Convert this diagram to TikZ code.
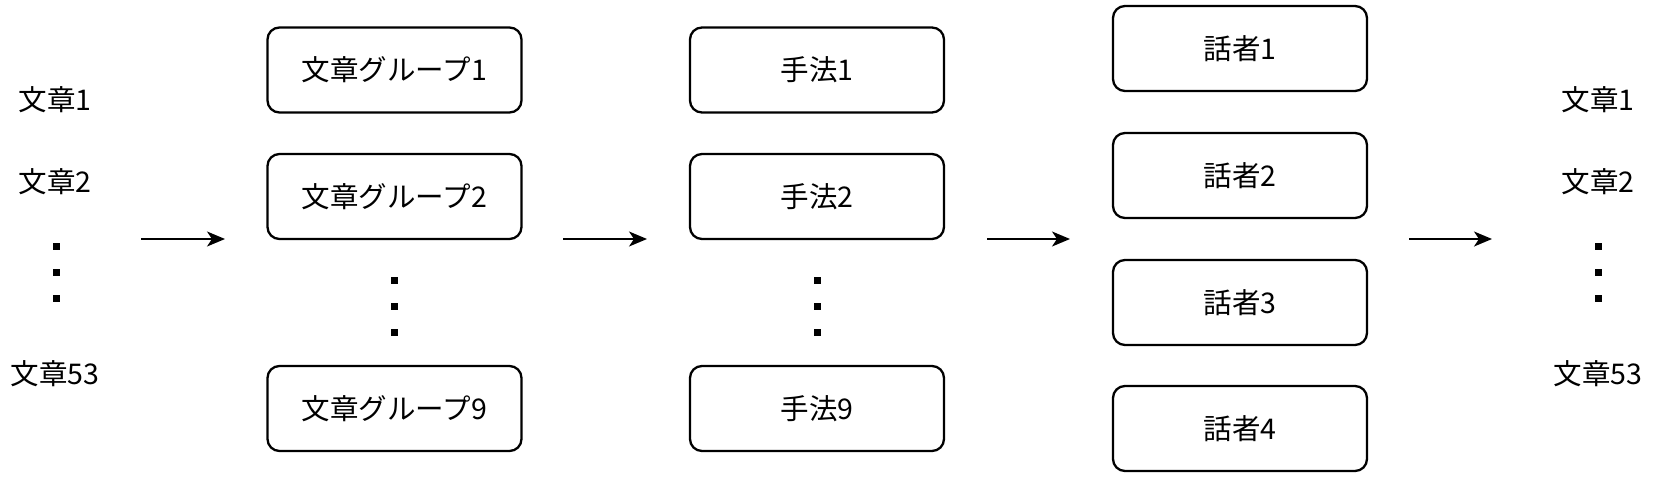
\documentclass[tikz,border=0pt]{standalone}
\usepackage{fontspec}
\setmainfont{Noto Sans CJK JP}
\usetikzlibrary{arrows.meta}
\begin{document}
\begin{tikzpicture}[x=1pt,y=-1pt,
  every node/.style={font=\fontsize{28.5}{32}\selectfont},
  boxnode/.style={draw=black,line width=2.3pt,rounded corners=12pt,minimum width=254pt,minimum height=85pt,inner sep=0pt},
  txt/.style={inner sep=0pt},
  dotsq/.style={fill=black,minimum size=7pt,inner sep=0pt,draw=none},
  flow/.style={line width=2pt,-{Stealth[length=18pt,width=15pt,inset=5pt]}}]
\useasboundingbox (0,0) rectangle (1658,490);
% left texts
\node[txt] (l1) at (55,100) {文章1};
\node[txt] (l2) at (55,182) {文章2};
\node[dotsq] (ld1) at (56,246) {};
\node[dotsq] (ld2) at (56,272) {};
\node[dotsq] (ld3) at (56,298) {};
\node[txt] (l53) at (55,374) {文章53};
% groups
\node[boxnode] (g1) at (394.5,70) {文章グループ1};
\node[boxnode] (g2) at (394.5,196.5) {文章グループ2};
\node[dotsq] (gd1) at (394,280) {};
\node[dotsq] (gd2) at (394,306) {};
\node[dotsq] (gd3) at (394,332) {};
\node[boxnode] (g9) at (394.5,408.5) {文章グループ9};
% methods
\node[boxnode] (m1) at (817,70) {手法1};
\node[boxnode] (m2) at (817,196.5) {手法2};
\node[dotsq] (md1) at (817,280) {};
\node[dotsq] (md2) at (817,306) {};
\node[dotsq] (md3) at (817,332) {};
\node[boxnode] (m9) at (817,408.5) {手法9};
% speakers
\node[boxnode] (s1) at (1240,48.5) {話者1};
\node[boxnode] (s2) at (1240,175.5) {話者2};
\node[boxnode] (s3) at (1240,302.5) {話者3};
\node[boxnode] (s4) at (1240,428.5) {話者4};
% right texts
\node[txt] (r1) at (1598,100) {文章1};
\node[txt] (r2) at (1598,182) {文章2};
\node[dotsq] (rd1) at (1598,246) {};
\node[dotsq] (rd2) at (1598,272) {};
\node[dotsq] (rd3) at (1598,298) {};
\node[txt] (r53) at (1598,374) {文章53};
% arrows
\coordinate (a1s) at (141,239); \coordinate (a1e) at (225,239);
\coordinate (a2s) at (563,239); \coordinate (a2e) at (647,239);
\coordinate (a3s) at (987,239); \coordinate (a3e) at (1070,239);
\coordinate (a4s) at (1409,239); \coordinate (a4e) at (1492,239);
\draw[flow] (a1s) -- (a1e);
\draw[flow] (a2s) -- (a2e);
\draw[flow] (a3s) -- (a3e);
\draw[flow] (a4s) -- (a4e);
\end{tikzpicture}
\end{document}
